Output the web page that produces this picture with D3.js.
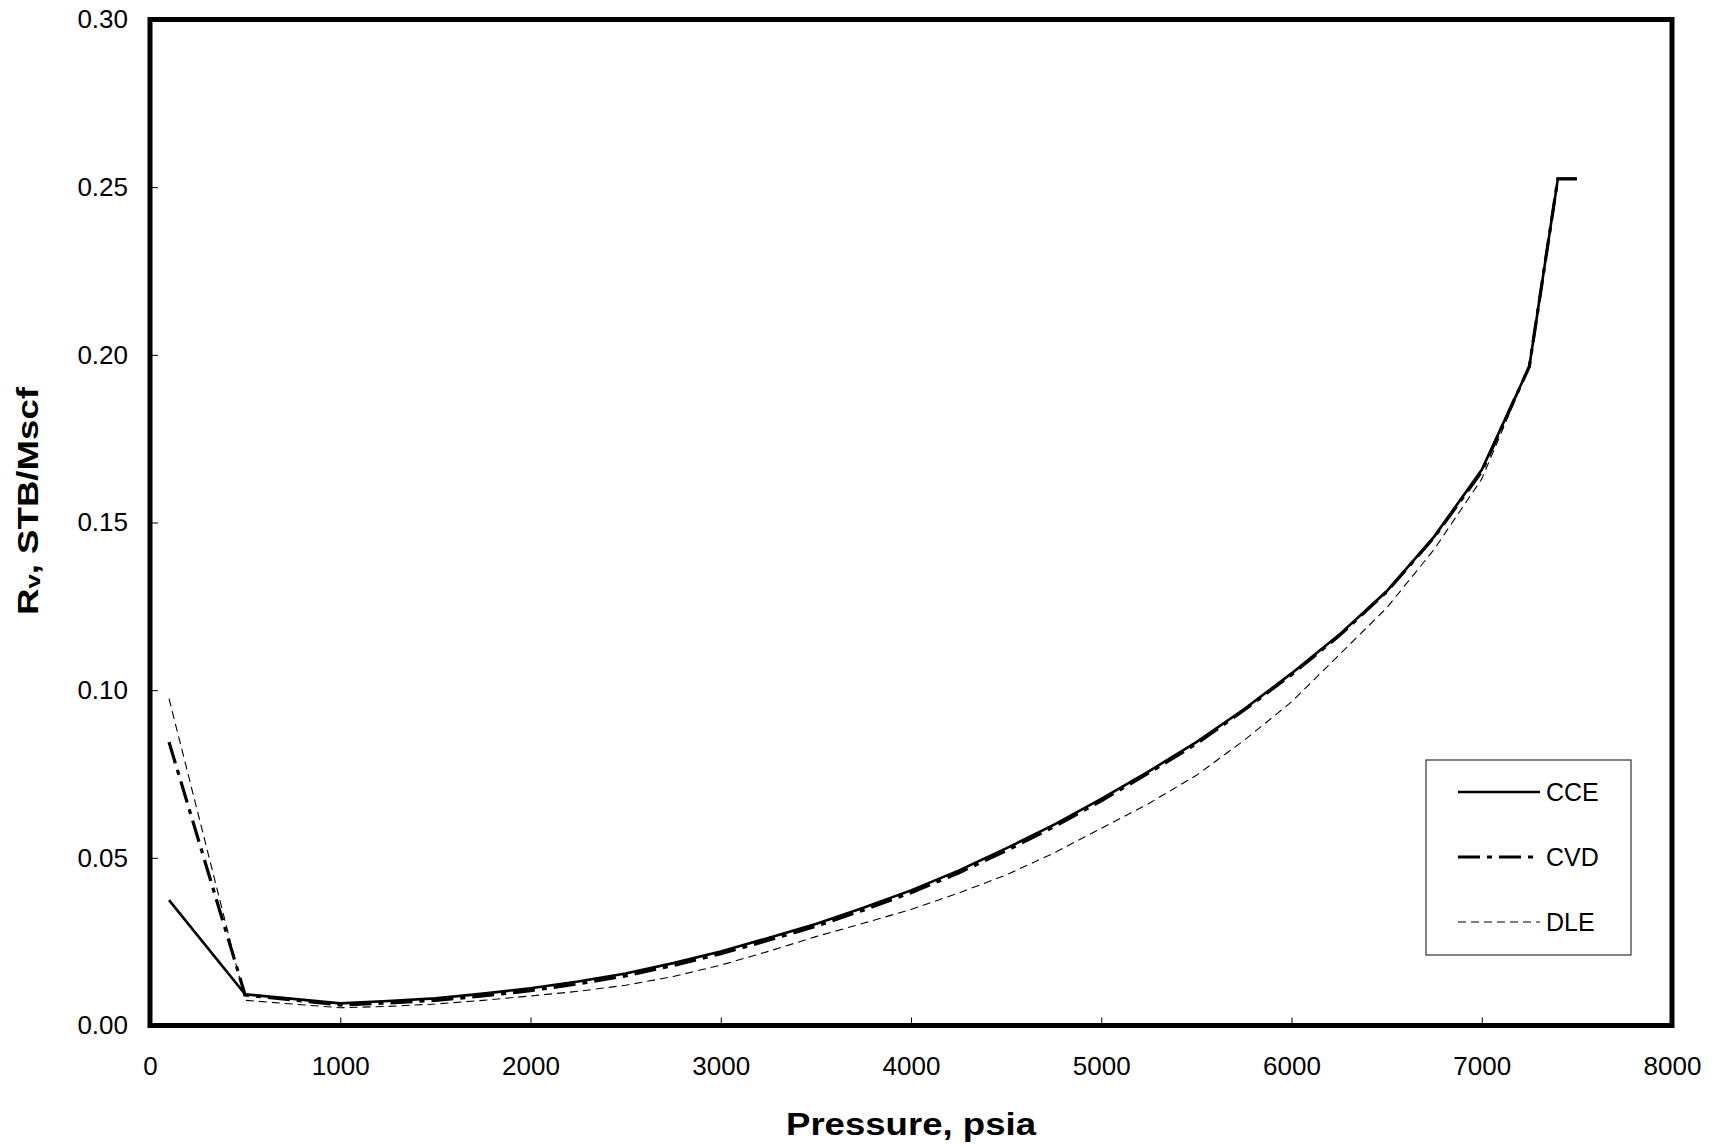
<!DOCTYPE html>
<html>
<head>
<meta charset="utf-8">
<script src="https://cdn.jsdelivr.net/npm/d3@7"></script>
<style>
  body { margin: 0; background: #fff; }
  text { font-family: Arial, "Liberation Sans", sans-serif; }
</style>
</head>
<body>
<script>
// pressure points (psia) and Rv readings (STB/Mscf)
const pressures = [100, 500, 1000, 1250, 1500, 1750, 2000, 2250, 2500, 2750, 3000, 3250, 3500, 3750,
  4000, 4250, 4500, 4750, 5000, 5250, 5500, 5750, 6000, 6250, 6500, 6750, 7000, 7250, 7400, 7500];
const cce = [0.0374, 0.0093, 0.0066, 0.0073, 0.0081, 0.0095, 0.0111, 0.0131, 0.0155, 0.0186, 0.0221, 0.0261, 0.0303, 0.0351,
  0.0403, 0.0462, 0.0528, 0.0598, 0.0676, 0.0758, 0.0845, 0.0943, 0.1050, 0.1165, 0.1295, 0.1458, 0.1657, 0.1965, 0.2525, 0.2525];
const cvd = [0.0845, 0.0091, 0.0061, 0.0067, 0.0075, 0.0088, 0.0104, 0.0124, 0.0148, 0.0179, 0.0214, 0.0254, 0.0296, 0.0344,
  0.0396, 0.0455, 0.0521, 0.0592, 0.0670, 0.0753, 0.0840, 0.0940, 0.1046, 0.1162, 0.1293, 0.1456, 0.1652, 0.1965, 0.2525, 0.2525];
const dle = [0.0975, 0.0075, 0.0053, 0.0057, 0.0064, 0.0075, 0.0088, 0.0102, 0.0120, 0.0146, 0.0180, 0.0221, 0.0265, 0.0305,
  0.0346, 0.0395, 0.0449, 0.0514, 0.0588, 0.0662, 0.0746, 0.0850, 0.0965, 0.1105, 0.1245, 0.1420, 0.1630, 0.1965, 0.2525, 0.2525];
const seriesNames = ["CCE", "CVD", "DLE"];
const xTicks = [0, 1000, 2000, 3000, 4000, 5000, 6000, 7000, 8000];
const yTicks = [0, 0.05, 0.10, 0.15, 0.20, 0.25, 0.30];

const W = 1715, H = 1147;
const m = { left: 150, top: 19.5, right: 43, bottom: 121.5 };
const w = W - m.left - m.right, h = H - m.top - m.bottom;

const svg = d3.select("body").append("svg")
    .attr("width", W)
    .attr("height", H);

const g = svg.append("g").attr("transform", `translate(${m.left},${m.top})`);

const x = d3.scaleLinear().domain([0, 8000]).range([0, w]);
const y = d3.scaleLinear().domain([0, 0.30]).range([h, 0]);

// axes with inward ticks
const xAxis = g.append("g")
    .attr("transform", `translate(0,${h})`)
    .call(d3.axisBottom(x).tickValues(xTicks).tickSize(-8).tickPadding(31).tickFormat(d3.format("d")));
const yAxis = g.append("g")
    .call(d3.axisLeft(y).tickValues(yTicks).tickSize(-8).tickPadding(22).tickFormat(d3.format(".2f")));
[xAxis, yAxis].forEach(a => {
  a.select(".domain").remove();
  a.selectAll(".tick line").attr("stroke", "#000").attr("stroke-width", 1);
  a.selectAll(".tick text").attr("font-size", 26).attr("fill", "#000")
    .attr("font-family", "Arial, 'Liberation Sans', sans-serif");
});

const styles = {
  CCE: { width: 2.6, dash: null },
  CVD: { width: 3.2, dash: "22,7,5,7" },
  DLE: { width: 1.1, dash: "8,5" }
};
const seriesData = { CCE: cce, CVD: cvd, DLE: dle };

const line = d3.line().x(d => x(d[0])).y(d => y(d[1]));

// draw DLE first so the thicker lines sit on top
["DLE", "CVD", "CCE"].forEach(name => {
  g.append("path")
    .datum(pressures.map((p, i) => [p, seriesData[name][i]]))
    .attr("d", line)
    .attr("fill", "none")
    .attr("stroke", "#000")
    .attr("stroke-width", styles[name].width)
    .attr("stroke-dasharray", styles[name].dash)
    .attr("stroke-linejoin", "miter");
});

// frame
g.append("rect")
    .attr("width", w)
    .attr("height", h)
    .attr("fill", "none")
    .attr("stroke", "#000")
    .attr("stroke-width", 5);

// legend
const lg = svg.append("g").attr("transform", "translate(1426,760)");
lg.append("rect")
    .attr("width", 205)
    .attr("height", 195)
    .attr("fill", "#fff")
    .attr("stroke", "#333")
    .attr("stroke-width", 1.2);
seriesNames.forEach((name, i) => {
  const ly = 32 + i * 65;
  lg.append("line")
    .attr("x1", 32).attr("x2", 114)
    .attr("y1", ly).attr("y2", ly)
    .attr("stroke", "#000")
    .attr("stroke-width", styles[name].width)
    .attr("stroke-dasharray", styles[name].dash);
  lg.append("text")
    .attr("x", 120)
    .attr("y", ly)
    .attr("dy", "0.36em")
    .attr("font-size", 25)
    .text(name);
});

// axis titles
svg.append("text")
    .attr("x", m.left + w / 2)
    .attr("y", 1135)
    .attr("text-anchor", "middle")
    .attr("font-size", 32)
    .attr("font-weight", "bold")
    .attr("textLength", 250)
    .attr("lengthAdjust", "spacingAndGlyphs")
    .text("Pressure, psia");

const yt = svg.append("text")
    .attr("text-anchor", "middle")
    .attr("font-size", 30)
    .attr("font-weight", "bold");
yt.append("tspan").text("R");
yt.append("tspan").attr("font-size", 21).attr("dy", 2).text("v");
yt.append("tspan").attr("dy", -2).text(", STB/Mscf");
// the reference title is stretched along its length
const ytLen = yt.node().getComputedTextLength();
yt.attr("transform", `translate(38,501) rotate(-90) scale(${228 / ytLen},1)`);
</script>
</body>
</html>
